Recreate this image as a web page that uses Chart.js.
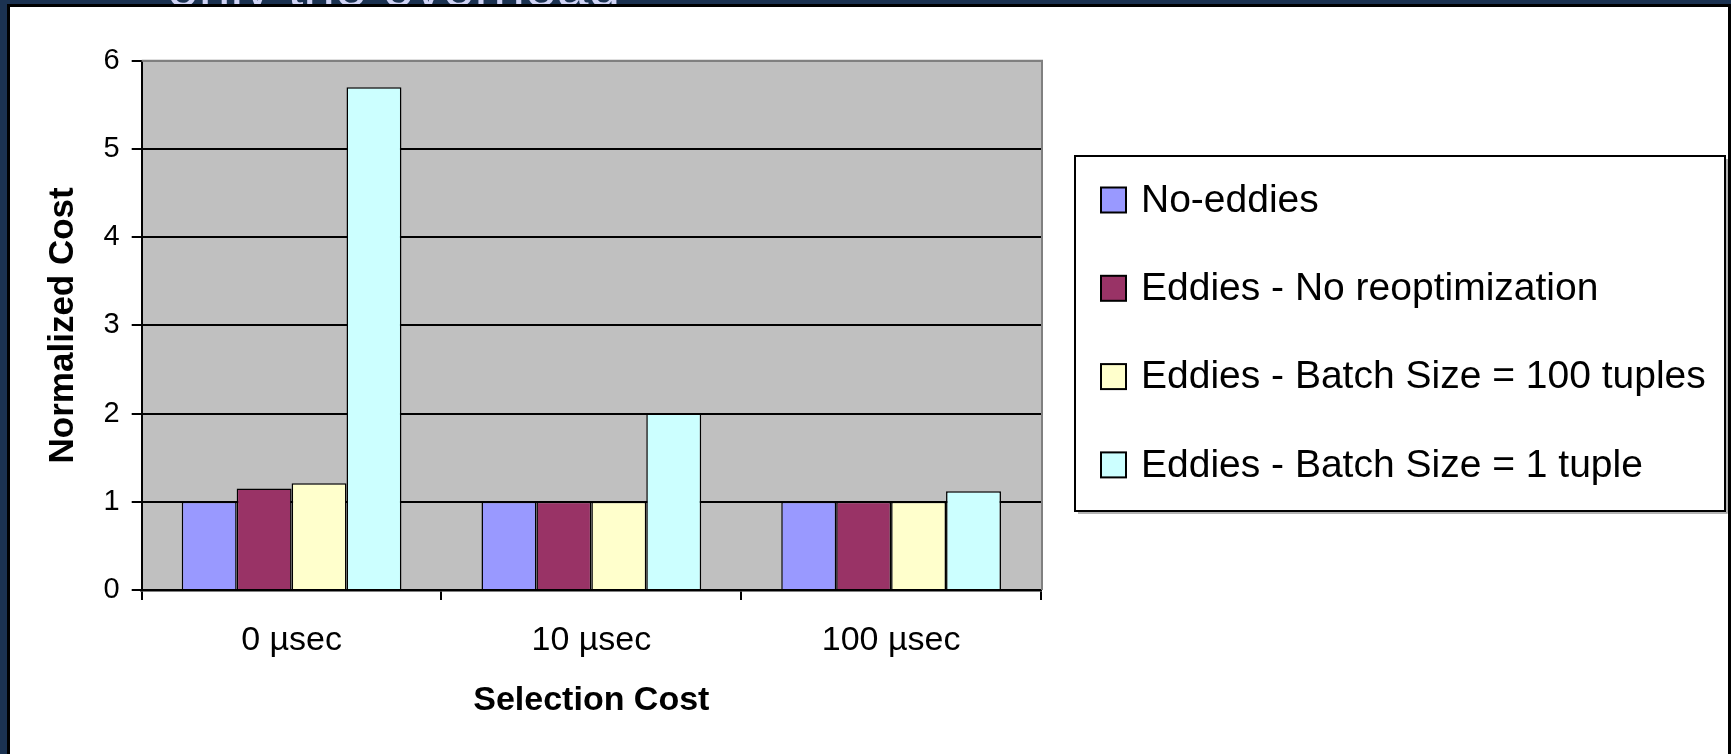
<!DOCTYPE html>
<html>

<head>
    <title>Normalized Cost vs Selection Cost</title>
    <script src="https://cdn.jsdelivr.net/npm/chart.js"></script>
    <style>
        body {
            margin: 0;
            width: 1731px;
            height: 754px;
            overflow: hidden;
            position: relative;
            background: #1b3251;
            font-family: "Liberation Sans", Arial, sans-serif;
        }

        .slide-title {
            position: absolute;
            left: 167px;
            top: -42px;
            font-size: 57px;
            line-height: 57px;
            color: #d0d4f6;
            white-space: nowrap;
        }

        .panel {
            position: absolute;
            left: 7px;
            top: 4px;
            width: 1718px;
            height: 760px;
            background: #fff;
            border: 3px solid #000;
            border-bottom: none;
        }

        canvas {
            display: block;
        }
    </style>
</head>

<body>
    <!-- cut-off slide heading behind the chart -->
    <div class="slide-title">only the overhead</div>

    <div class="panel">
        <canvas id="cost-chart" width="1718" height="747"></canvas>
    </div>

    <script>
        // Data
        const categories = ['0 µsec', '10 µsec', '100 µsec'];
        const seriesNames = [
            'No-eddies',
            'Eddies - No reoptimization',
            'Eddies - Batch Size = 100 tuples',
            'Eddies - Batch Size = 1 tuple'
        ];
        const noEddies = [1, 1, 1];
        const noReopt = [1.15, 1, 1];
        const batch100 = [1.21, 1, 1];
        const batch1 = [5.7, 2.0, 1.12];
        const yTickValues = [0, 1, 2, 3, 4, 5, 6];

        const seriesColors = ['#9999ff', '#993366', '#ffffcc', '#ccffff'];
        const seriesValues = [noEddies, noReopt, batch100, batch1];

        const FONT = '"Liberation Sans", Arial, sans-serif';
        Chart.defaults.font.family = FONT;
        Chart.defaults.color = '#000';

        // grey plot area with the excel-style grey frame on top and right
        const plotFrame = {
            id: 'plotFrame',
            beforeDraw(chart) {
                const {ctx, chartArea: a} = chart;
                ctx.save();
                ctx.fillStyle = '#c0c0c0';
                ctx.fillRect(a.left, a.top, a.right - a.left, a.bottom - a.top);
                ctx.restore();
            },
            afterDraw(chart) {
                const {ctx, chartArea: a} = chart;
                ctx.save();
                ctx.strokeStyle = '#808080';
                ctx.lineWidth = 2;
                ctx.beginPath();
                ctx.moveTo(a.left, a.top);
                ctx.lineTo(a.right + 1, a.top);
                ctx.lineTo(a.right + 1, a.bottom);
                ctx.stroke();
                ctx.restore();
            }
        };

        // boxed legend on the right, built from the datasets
        const boxLegend = {
            id: 'boxLegend',
            afterDraw(chart, args, opts) {
                const ctx = chart.ctx;
                ctx.save();
                // soft shadow, then the frame
                ctx.strokeStyle = '#9a9a9a';
                ctx.lineWidth = 1.5;
                ctx.beginPath();
                ctx.moveTo(opts.left + 3, opts.top + opts.height + 2);
                ctx.lineTo(opts.left + opts.width + 2, opts.top + opts.height + 2);
                ctx.lineTo(opts.left + opts.width + 2, opts.top + 3);
                ctx.stroke();
                ctx.strokeStyle = '#000';
                ctx.lineWidth = 2;
                ctx.strokeRect(opts.left, opts.top, opts.width, opts.height);

                ctx.font = opts.fontSize + 'px ' + FONT;
                ctx.textBaseline = 'middle';
                ctx.textAlign = 'left';
                chart.data.datasets.forEach((ds, i) => {
                    const y = opts.firstRow + i * opts.rowGap;
                    ctx.fillStyle = ds.backgroundColor;
                    ctx.fillRect(opts.boxX, y - opts.boxSize / 2, opts.boxSize, opts.boxSize);
                    ctx.lineWidth = 2;
                    ctx.strokeStyle = '#000';
                    ctx.strokeRect(opts.boxX, y - opts.boxSize / 2, opts.boxSize, opts.boxSize);
                    ctx.fillStyle = '#000';
                    ctx.fillText(ds.label, opts.textX, y + 1);
                });
                ctx.restore();
            }
        };

        const ctx = document.getElementById('cost-chart').getContext('2d');
        new Chart(ctx, {
            type: 'bar',
            data: {
                labels: categories,
                datasets: seriesNames.map((name, i) => ({
                    label: name,
                    data: seriesValues[i],
                    backgroundColor: seriesColors[i],
                    borderColor: '#000',
                    borderWidth: 1.5,
                    categoryPercentage: 0.733,
                    barPercentage: 1.0
                }))
            },
            options: {
                responsive: false,
                animation: false,
                devicePixelRatio: 1,
                layout: {
                    padding: {top: 53.7, right: 687, bottom: 0, left: 0}
                },
                plugins: {
                    legend: {display: false},
                    tooltip: {enabled: false},
                    boxLegend: {
                        left: 1065, top: 149, width: 650, height: 355,
                        boxX: 1091, boxSize: 25, textX: 1131,
                        firstRow: 193, rowGap: 88.3, fontSize: 39
                    }
                },
                scales: {
                    x: {
                        offset: true,
                        grid: {
                            offset: true,
                            drawOnChartArea: false,
                            drawTicks: true,
                            tickLength: 10,
                            color: '#000',
                            lineWidth: 2
                        },
                        border: {color: '#000', width: 2.5},
                        ticks: {font: {size: 34}, color: '#000', padding: 20, maxRotation: 0},
                        title: {
                            display: true,
                            text: 'Selection Cost',
                            color: '#000',
                            font: {size: 34, weight: 'bold'},
                            padding: {top: 0, bottom: 33}
                        },
                        afterFit: s => { s.height = 164; }
                    },
                    y: {
                        min: 0,
                        max: 6,
                        afterBuildTicks: s => { s.ticks = yTickValues.map(v => ({value: v})); },
                        ticks: {font: {size: 29}, color: '#000', padding: 12},
                        grid: {
                            color: c => (c.tick && c.tick.value === 6 ? '#808080' : '#000'),
                            tickColor: '#000',
                            lineWidth: 2,
                            tickLength: 10
                        },
                        border: {color: '#000', width: 2},
                        title: {
                            display: true,
                            text: 'Normalized Cost',
                            color: '#000',
                            font: {size: 35, weight: 'bold'},
                            padding: {top: 32, bottom: 0}
                        },
                        afterFit: s => { s.width = 131.7; }
                    }
                }
            },
            plugins: [plotFrame, boxLegend]
        });
    </script>
</body>

</html>
